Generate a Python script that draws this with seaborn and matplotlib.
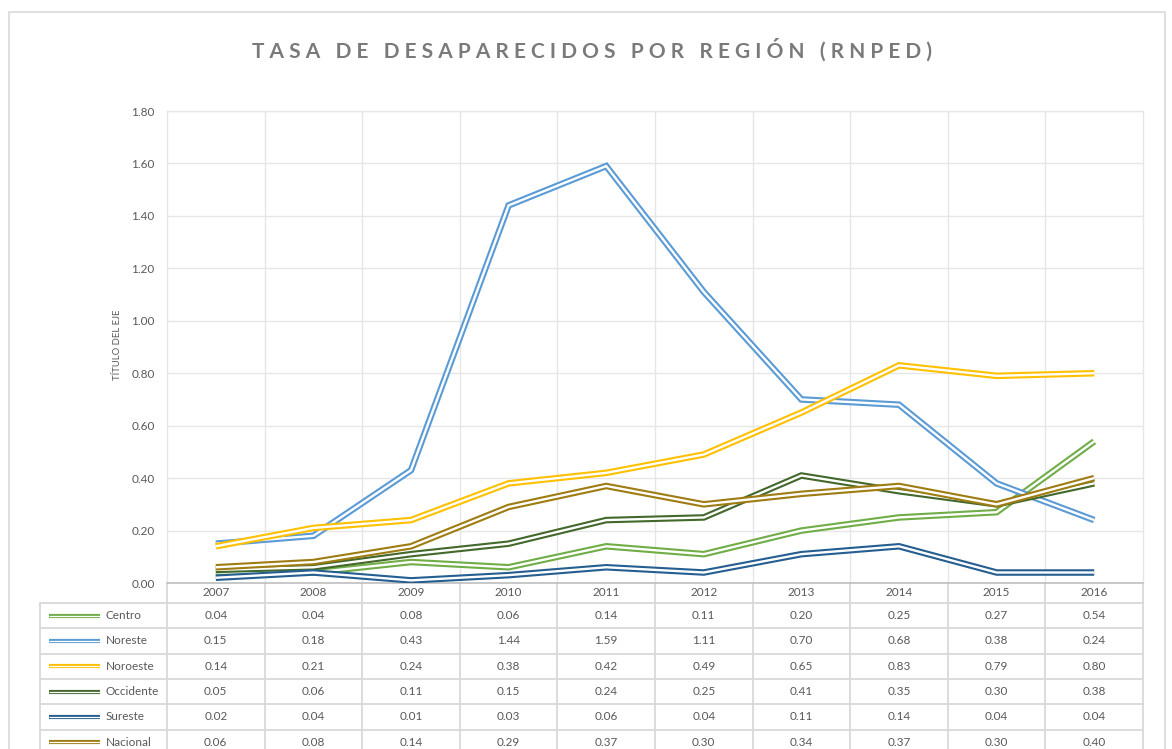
import numpy as np
import pandas as pd
import matplotlib
matplotlib.use("Agg")
import matplotlib.pyplot as plt
import matplotlib.patheffects as pe
import matplotlib.transforms as mtransforms
from matplotlib.lines import Line2D
from matplotlib.patches import Rectangle
import seaborn as sns

years = ["2007", "2008", "2009", "2010", "2011", "2012", "2013", "2014", "2015", "2016"]
series_names = ["Centro", "Noreste", "Noroeste", "Occidente", "Sureste", "Nacional"]
centro = [0.04, 0.04, 0.08, 0.06, 0.14, 0.11, 0.20, 0.25, 0.27, 0.54]
noreste = [0.15, 0.18, 0.43, 1.44, 1.59, 1.11, 0.70, 0.68, 0.38, 0.24]
noroeste = [0.14, 0.21, 0.24, 0.38, 0.42, 0.49, 0.65, 0.83, 0.79, 0.80]
occidente = [0.05, 0.06, 0.11, 0.15, 0.24, 0.25, 0.41, 0.35, 0.30, 0.38]
sureste = [0.02, 0.04, 0.01, 0.03, 0.06, 0.04, 0.11, 0.14, 0.04, 0.04]
nacional = [0.06, 0.08, 0.14, 0.29, 0.37, 0.30, 0.34, 0.37, 0.30, 0.40]
colors = ["#70AD47", "#5B9BD5", "#FFC000", "#43682B", "#255E91", "#9E7C12"]
y_ticks = [0.0, 0.2, 0.4, 0.6, 0.8, 1.0, 1.2, 1.4, 1.6, 1.8]

values = [centro, noreste, noroeste, occidente, sureste, nacional]
rows = []
for name, vals in zip(series_names, values):
    for i, (yr, v) in enumerate(zip(years, vals)):
        rows.append({"Región": name, "pos": i, "Año": yr, "Tasa": v})
df = pd.DataFrame(rows)

sns.set_theme(style="white")
plt.rcParams["font.family"] = ["Lato", "DejaVu Sans"]

W, H = 1172, 749
fig = plt.figure(figsize=(W / 100, H / 100), dpi=100)
fig.patch.set_facecolor("white")
L, R, T, B = 167, 1143, 111, 583
ax = fig.add_axes([L / W, 1 - B / H, (R - L) / W, (B - T) / H])

sns.lineplot(data=df, x="pos", y="Tasa", hue="Región", hue_order=series_names,
             palette=colors, sort=False, legend=False, ax=ax, linewidth=4.7,
             estimator=None)
for line, c in zip(ax.lines, colors):
    line.set_solid_joinstyle("miter")
    line.set_solid_capstyle("butt")
    line.set_path_effects([pe.Normal(),
                           pe.Stroke(linewidth=1.7, foreground="white",
                                     capstyle="butt", joinstyle="miter")])
    line.set_zorder(3)

ax.set_xlim(-0.5, len(years) - 0.5)
ax.set_ylim(0, 1.8)
ax.set_yticks(y_ticks)
ax.set_yticklabels([f"{v:.2f}" for v in y_ticks], color="#595959", fontsize=8.5)
ax.set_xticks(np.arange(0.5, len(years) - 0.5, 1))
ax.set_xticklabels([])
ax.tick_params(axis="both", length=0, pad=9)
ax.grid(True, color="#e6e6e6", linewidth=1.0)
ax.set_axisbelow(True)
ax.set_xlabel("")
ax.set_ylabel("")
for s in ["left", "right", "top"]:
    ax.spines[s].set_color("#e6e6e6")
    ax.spines[s].set_linewidth(1.0)
ax.spines["bottom"].set_color("#bfbfbf")
ax.spines["bottom"].set_linewidth(1.2)

# ---- data table below the axes ----
px = lambda p: (B - p) / (B - T)  # pixel row -> axes fraction
blend = mtransforms.blended_transform_factory(ax.transData, ax.transAxes)
grid_c = "#d9d9d9"
row_edges = [583, 603, 628.3, 653.6, 679, 704.3, 729.6, 755]
label_left = (40 - L) / (R - L)

# header row
for j in range(len(years) + 1):
    ax.add_line(Line2D([j - 0.5, j - 0.5], [px(583), px(603)], transform=blend,
                       color=grid_c, lw=1.3, clip_on=False))
for j, yr in enumerate(years):
    ax.text(j, px(593), yr, transform=blend, ha="center", va="center",
            fontsize=8.5, color="#595959", clip_on=False)

# horizontal lines
for k, e in enumerate(row_edges[1:]):
    ax.add_line(Line2D([label_left, 1], [px(e), px(e)], transform=ax.transAxes,
                       color=grid_c, lw=1.3, clip_on=False))
# vertical lines for body
for xv in [label_left, 0]:
    ax.add_line(Line2D([xv, xv], [px(603), px(755)], transform=ax.transAxes,
                       color=grid_c, lw=1.3, clip_on=False))
for j in range(1, len(years) + 1):
    ax.add_line(Line2D([j - 0.5, j - 0.5], [px(603), px(755)], transform=blend,
                       color=grid_c, lw=1.3, clip_on=False))

for r, (name, vals, c) in enumerate(zip(series_names, values, colors)):
    yc = px((row_edges[r + 1] + row_edges[r + 2]) / 2)
    key = Line2D([(49 - L) / (R - L), (100 - L) / (R - L)], [yc, yc],
                 transform=ax.transAxes, color=c, lw=3.0, clip_on=False,
                 solid_capstyle="butt")
    key.set_path_effects([pe.Normal(),
                          pe.Stroke(linewidth=0.9, foreground="white", capstyle="butt")])
    ax.add_line(key)
    ax.text((106 - L) / (R - L), yc, name, transform=ax.transAxes, ha="left",
            va="center", fontsize=8.5, color="#595959", clip_on=False)
    for j, v in enumerate(vals):
        ax.text(j, yc, f"{v:.2f}", transform=blend, ha="center", va="center",
                fontsize=8.5, color="#595959", clip_on=False)

# axis title
fig.text(118 / W, 1 - 345 / H, "TÍTULO DEL EJE", rotation=90, ha="center",
         va="center", fontsize=6.8, color="#595959")

# chart title (letter-spaced)
title = "TASA DE DESAPARECIDOS POR REGIÓN (RNPED)"
spaced = "   ".join(" ".join(w) for w in title.split(" "))
fig.text(592 / W, 1 - 50 / H, spaced, ha="center", va="center", fontsize=15,
         fontweight="bold", color="#7a7a7a")

# chart frame
fig.add_artist(Rectangle((9 / W, -0.05), (1165 - 9) / W, 1 - 12 / H + 0.05,
                         transform=fig.transFigure, fill=False,
                         edgecolor="#d9d9d9", lw=1.2))

fig.savefig("out.png", dpi=100)
